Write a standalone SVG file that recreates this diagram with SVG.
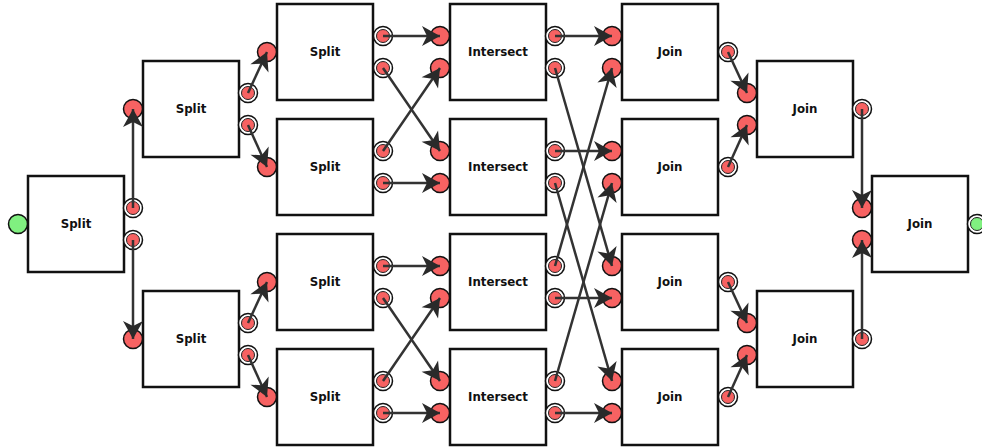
<svg xmlns="http://www.w3.org/2000/svg" xmlns:xlink="http://www.w3.org/1999/xlink" width="982" height="448" viewBox="0 0 982 448">
  <style>
    .box { fill: #ffffff; stroke: #111111; stroke-width: 2.5; }
    .label { font-family: "DejaVu Sans", "Liberation Sans", sans-serif; font-weight: bold; font-size: 11.8px; fill: #111111; text-anchor: middle; }
    .wire { fill: none; stroke: #333333; stroke-width: 2.5; marker-end: url(#head); }
  </style>
  <defs>
    <!-- barbed arrowhead, tip at the target port centre -->
    <marker id="head" markerUnits="userSpaceOnUse" viewBox="-20 -12 22 24" refX="0" refY="0" markerWidth="22" markerHeight="24" orient="auto">
      <path d="M0,0 L-18,-10 L-13,0 L-18,10 Z" fill="#2a2a2a"/>
    </marker>
    <!-- input port -->
    <g id="pin">
      <circle r="9.5" fill="#f76262" stroke="#111111" stroke-width="1.5"/>
    </g>
    <!-- output port: ringed -->
    <g id="pout">
      <circle r="9.5" fill="#ffffff" stroke="#111111" stroke-width="1.5"/>
      <circle r="6.5" fill="#f76262" stroke="#222222" stroke-width="1"/>
    </g>
    <g id="gin">
      <circle r="9.5" fill="#80f080" stroke="#111111" stroke-width="1.5"/>
    </g>
    <g id="gout">
      <circle r="9.5" fill="#ffffff" stroke="#111111" stroke-width="1.5"/>
      <circle r="6.5" fill="#80f080" stroke="#222222" stroke-width="1"/>
    </g>
  </defs>
  <rect width="982" height="448" fill="#ffffff"/>

  <!-- column 1 -->
  <g id="split0">
    <rect class="box" x="28" y="176" width="96" height="96"/>
    <text class="label" x="76" y="228">Split</text>
    <use href="#gin" x="18" y="224"/>
    <use href="#pout" x="133" y="208"/>
    <use href="#pout" x="133" y="240"/>
  </g>

  <!-- column 2 -->
  <g id="split1a">
    <rect class="box" x="143" y="61" width="96" height="96"/>
    <text class="label" x="191" y="113">Split</text>
    <use href="#pin" x="133" y="109"/>
    <use href="#pout" x="248" y="93"/>
    <use href="#pout" x="248" y="125"/>
  </g>
  <g id="split1b">
    <rect class="box" x="143" y="291" width="96" height="96"/>
    <text class="label" x="191" y="343">Split</text>
    <use href="#pin" x="133" y="339"/>
    <use href="#pout" x="248" y="323"/>
    <use href="#pout" x="248" y="355"/>
  </g>

  <!-- column 3 -->
  <g id="split2a">
    <rect class="box" x="277" y="4" width="96" height="96"/>
    <text class="label" x="325" y="56">Split</text>
    <use href="#pin" x="267" y="52"/>
    <use href="#pout" x="383" y="36"/>
    <use href="#pout" x="383" y="68"/>
  </g>
  <g id="split2b">
    <rect class="box" x="277" y="119" width="96" height="96"/>
    <text class="label" x="325" y="171">Split</text>
    <use href="#pin" x="267" y="167"/>
    <use href="#pout" x="383" y="151"/>
    <use href="#pout" x="383" y="183"/>
  </g>
  <g id="split2c">
    <rect class="box" x="277" y="234" width="96" height="96"/>
    <text class="label" x="325" y="286">Split</text>
    <use href="#pin" x="267" y="282"/>
    <use href="#pout" x="383" y="266"/>
    <use href="#pout" x="383" y="298"/>
  </g>
  <g id="split2d">
    <rect class="box" x="277" y="349" width="96" height="96"/>
    <text class="label" x="325" y="401">Split</text>
    <use href="#pin" x="267" y="397"/>
    <use href="#pout" x="383" y="381"/>
    <use href="#pout" x="383" y="413"/>
  </g>

  <!-- column 4 -->
  <g id="intersect_a">
    <rect class="box" x="450" y="4" width="96" height="96"/>
    <text class="label" x="498" y="56">Intersect</text>
    <use href="#pin" x="440" y="36"/>
    <use href="#pin" x="440" y="68"/>
    <use href="#pout" x="555" y="36"/>
    <use href="#pout" x="555" y="68"/>
  </g>
  <g id="intersect_b">
    <rect class="box" x="450" y="119" width="96" height="96"/>
    <text class="label" x="498" y="171">Intersect</text>
    <use href="#pin" x="440" y="151"/>
    <use href="#pin" x="440" y="183"/>
    <use href="#pout" x="555" y="151"/>
    <use href="#pout" x="555" y="183"/>
  </g>
  <g id="intersect_c">
    <rect class="box" x="450" y="234" width="96" height="96"/>
    <text class="label" x="498" y="286">Intersect</text>
    <use href="#pin" x="440" y="266"/>
    <use href="#pin" x="440" y="298"/>
    <use href="#pout" x="555" y="266"/>
    <use href="#pout" x="555" y="298"/>
  </g>
  <g id="intersect_d">
    <rect class="box" x="450" y="349" width="96" height="96"/>
    <text class="label" x="498" y="401">Intersect</text>
    <use href="#pin" x="440" y="381"/>
    <use href="#pin" x="440" y="413"/>
    <use href="#pout" x="555" y="381"/>
    <use href="#pout" x="555" y="413"/>
  </g>

  <!-- column 5 -->
  <g id="join0a">
    <rect class="box" x="622" y="4" width="96" height="96"/>
    <text class="label" x="670" y="56">Join</text>
    <use href="#pin" x="612" y="36"/>
    <use href="#pin" x="612" y="68"/>
    <use href="#pout" x="728" y="52"/>
  </g>
  <g id="join0b">
    <rect class="box" x="622" y="119" width="96" height="96"/>
    <text class="label" x="670" y="171">Join</text>
    <use href="#pin" x="612" y="151"/>
    <use href="#pin" x="612" y="183"/>
    <use href="#pout" x="728" y="167"/>
  </g>
  <g id="join0c">
    <rect class="box" x="622" y="234" width="96" height="96"/>
    <text class="label" x="670" y="286">Join</text>
    <use href="#pin" x="612" y="266"/>
    <use href="#pin" x="612" y="298"/>
    <use href="#pout" x="728" y="282"/>
  </g>
  <g id="join0d">
    <rect class="box" x="622" y="349" width="96" height="96"/>
    <text class="label" x="670" y="401">Join</text>
    <use href="#pin" x="612" y="381"/>
    <use href="#pin" x="612" y="413"/>
    <use href="#pout" x="728" y="397"/>
  </g>

  <!-- column 6 -->
  <g id="join1a">
    <rect class="box" x="757" y="61" width="96" height="96"/>
    <text class="label" x="805" y="113">Join</text>
    <use href="#pin" x="747" y="93"/>
    <use href="#pin" x="747" y="125"/>
    <use href="#pout" x="862" y="109"/>
  </g>
  <g id="join1b">
    <rect class="box" x="757" y="291" width="96" height="96"/>
    <text class="label" x="805" y="343">Join</text>
    <use href="#pin" x="747" y="323"/>
    <use href="#pin" x="747" y="355"/>
    <use href="#pout" x="862" y="339"/>
  </g>

  <!-- column 7 -->
  <g id="join2">
    <rect class="box" x="872" y="176" width="96" height="96"/>
    <text class="label" x="920" y="228">Join</text>
    <use href="#pin" x="862" y="208"/>
    <use href="#pin" x="862" y="240"/>
    <use href="#gout" x="977" y="224"/>
  </g>

  <!-- connectors, drawn above the ports -->
  <g id="connectors">
    <path class="wire" d="M133,208 L133,109"/>
    <path class="wire" d="M133,240 L133,339"/>

    <path class="wire" d="M248,93 L267,52"/>
    <path class="wire" d="M248,125 L267,167"/>
    <path class="wire" d="M248,323 L267,282"/>
    <path class="wire" d="M248,355 L267,397"/>

    <path class="wire" d="M383,36 L440,36"/>
    <path class="wire" d="M383,68 L440,151"/>
    <path class="wire" d="M383,151 L440,68"/>
    <path class="wire" d="M383,183 L440,183"/>
    <path class="wire" d="M383,266 L440,266"/>
    <path class="wire" d="M383,298 L440,381"/>
    <path class="wire" d="M383,381 L440,298"/>
    <path class="wire" d="M383,413 L440,413"/>

    <path class="wire" d="M555,36 L612,36"/>
    <path class="wire" d="M555,68 L612,266"/>
    <path class="wire" d="M555,151 L612,151"/>
    <path class="wire" d="M555,183 L612,381"/>
    <path class="wire" d="M555,266 L612,68"/>
    <path class="wire" d="M555,298 L612,298"/>
    <path class="wire" d="M555,381 L612,183"/>
    <path class="wire" d="M555,413 L612,413"/>

    <path class="wire" d="M728,52 L747,93"/>
    <path class="wire" d="M728,167 L747,125"/>
    <path class="wire" d="M728,282 L747,323"/>
    <path class="wire" d="M728,397 L747,355"/>

    <path class="wire" d="M862,109 L862,208"/>
    <path class="wire" d="M862,339 L862,240"/>
  </g>
</svg>
